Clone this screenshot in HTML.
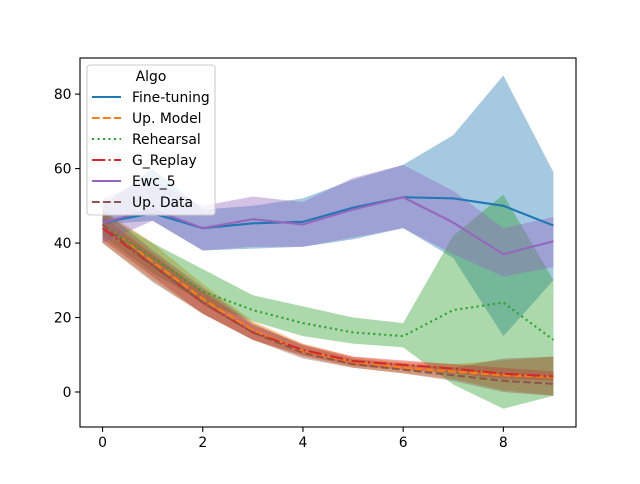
<!DOCTYPE html>
<html><head><meta charset="utf-8"><style>
body{margin:0;background:#fff;font-family:"DejaVu Sans","Liberation Sans",sans-serif}
svg text{font-family:"DejaVu Sans","Liberation Sans",sans-serif;font-size:13.9px;fill:#000}
</style></head><body>
<svg id="chart" width="640" height="480" xmlns="http://www.w3.org/2000/svg">
<rect width="640" height="480" fill="#fff"/>
<g id="bands"></g><g id="lines"></g><g id="axes"></g><g id="legend"></g>
</svg>
<script>
const xs=[0,1,2,3,4,5,6,7,8,9];
const yTicks=[0,20,40,60,80];
const xTicks=[0,2,4,6,8];
const seriesNames=["Fine-tuning","Up. Model","Rehearsal","G_Replay","Ewc_5","Up. Data"];
const ftMean=[45.5,48,44,45.3,45.7,49.5,52.3,52,50,44.7];
const ftLow=[45,46,38,38.5,39,41,44,36,15,30];
const ftHigh=[50,60,49,50,52,57,61,69,85,59];
const umMean=[45,35,25,16.5,11,8,6.5,5.5,4.5,4];
const umLow=[40,30,21,14,9.5,6.5,5,3.5,0.5,-1];
const umHigh=[49,40,29,19,13,9.5,8,7.5,8.5,9.5];
const reMean=[45,36,27,22,18.5,16,15,22,24,14];
const reLow=[42,32,24,19,15,13,12,2,-4.5,-1];
const reHigh=[48,40,33,26,23,20,18.5,42,53,30];
const grMean=[44,34,24,16,11.3,8.3,7.3,6.3,4.9,4.2];
const grLow=[41,31,21,14,9.8,7,6,5,3.5,3];
const grHigh=[47,37,27,18,12.8,9.5,8.5,7.5,6.5,5.5];
const ewMean=[45.5,49,44,46.4,45,49,52.3,45.5,37,40.5];
const ewLow=[40,46,38,39,39,41.5,44,37,31,33.5];
const ewHigh=[52,57,50,52.5,51,57.5,61,54,44,47];
const udMean=[45,34,24,16,10.5,7.5,6,4.5,3,2.2];
const udLow=[40,29.5,21,14,9,6.5,5,3,0,-1];
const udHigh=[49,38,28,18.5,12.5,9,7.5,6.5,9,9.5];

const L=80,R=576,T=58,B=427,X0=-0.45,X1=9.45,Y0=-9.4,Y1=89.7;
const sx=v=>L+(v-X0)/(X1-X0)*(R-L);
const sy=v=>B-(v-Y0)/(Y1-Y0)*(B-T);
const NS="http://www.w3.org/2000/svg";
function mk(t,a,p){const e=document.createElementNS(NS,t);for(const k in a)e.setAttribute(k,a[k]);p.appendChild(e);return e;}
const series=[
 {m:ftMean,l:ftLow,h:ftHigh,c:"#1f77b4",d:""},
 {m:umMean,l:umLow,h:umHigh,c:"#ff7f0e",d:"7.7,3.3"},
 {m:reMean,l:reLow,h:reHigh,c:"#2ca02c",d:"2.1,3.4"},
 {m:grMean,l:grLow,h:grHigh,c:"#d62728",d:"13.3,3.3,2.1,3.3"},
 {m:ewMean,l:ewLow,h:ewHigh,c:"#9467bd",d:""},
 {m:udMean,l:udLow,h:udHigh,c:"#8c564b",d:"7.7,3.3"}];
const bands=document.getElementById('bands'),lines=document.getElementById('lines');
series.forEach((s,i)=>{
 let pts=xs.map((x,j)=>sx(x)+","+sy(s.h[j]));
 pts=pts.concat(xs.map((x,j)=>sx(x)+","+sy(s.l[j])).reverse());
 const b=mk('polygon',{points:pts.join(" "),fill:s.c,'fill-opacity':0.4,stroke:'none'},bands);
 
 
 const a={points:xs.map((x,j)=>sx(x)+","+sy(s.m[j])).join(" "),fill:'none',stroke:s.c,'stroke-width':2.08};
 if(s.d)a['stroke-dasharray']=s.d;
 const ln=mk('polyline',a,lines);
 
 
});
const ax=document.getElementById('axes');
const fr=mk('rect',{x:L,y:T,width:R-L,height:B-T,fill:'none',stroke:'#000','stroke-width':1.1},ax);


xTicks.forEach(v=>{mk('line',{x1:sx(v),x2:sx(v),y1:B,y2:B+4.9,stroke:'#000','stroke-width':1.1},ax);
 const t=mk('text',{x:sx(v),y:B+20,'text-anchor':'middle'},ax);t.textContent=v;
 
 });
yTicks.forEach(v=>{mk('line',{x1:L-4.9,x2:L,y1:sy(v),y2:sy(v),stroke:'#000','stroke-width':1.1},ax);
 const t=mk('text',{x:L-8.5,y:sy(v)+5,'text-anchor':'end'},ax);t.textContent=v;
 
 });
const lg=document.getElementById('legend');


mk('rect',{x:87,y:65,width:128,height:150,rx:3,fill:'#fff','fill-opacity':0.8,stroke:'#ccc','stroke-width':1.1},lg);
const tt=mk('text',{x:151,y:81,'text-anchor':'middle'},lg);tt.textContent="Algo";
series.forEach((s,i)=>{const y=97+i*21;
 const a={x1:92,x2:121,y1:y,y2:y,stroke:s.c,'stroke-width':2.08};if(s.d)a['stroke-dasharray']=s.d;
 mk('line',a,lg);
 const t=mk('text',{x:132,y:y+5},lg);t.textContent=seriesNames[i];
 
 });
</script>
</body></html>
